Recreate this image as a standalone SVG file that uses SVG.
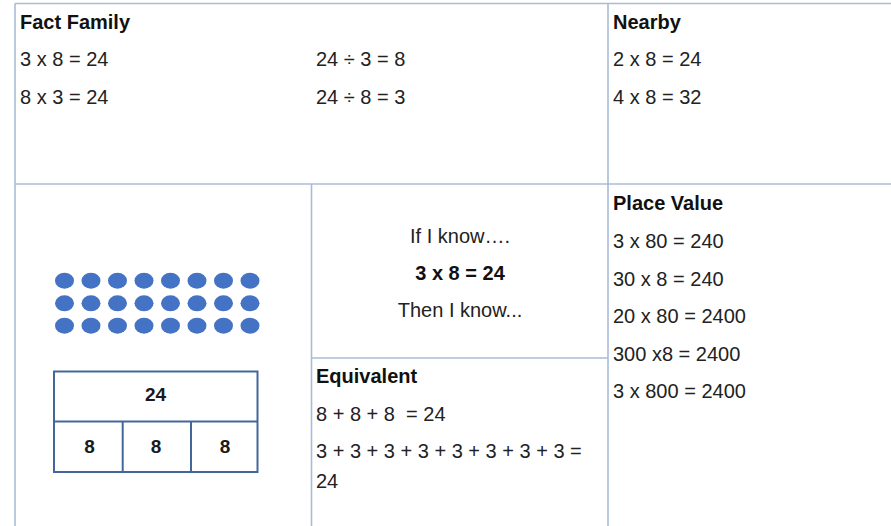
<svg xmlns="http://www.w3.org/2000/svg" width="891" height="526" viewBox="0 0 891 526">
<style>
.t{font-family:"Liberation Sans",Arial,sans-serif;font-size:20px;fill:#222}
.b{font-weight:bold;fill:#111}
.c{text-anchor:middle}
.grid{stroke:#A9BCD6;stroke-width:1.6;fill:none}
.bar{stroke:#44679B;stroke-width:2;fill:#fff}
.bt{font-family:"Liberation Sans",Arial,sans-serif;font-size:19px;font-weight:bold;fill:#1a1a1a;text-anchor:middle}
</style>
<rect width="891" height="526" fill="#fff"/>
<g id="connectors" class="grid">
<line x1="15" y1="3.5" x2="891" y2="3.5"/>
<line x1="15" y1="3.5" x2="15" y2="526"/>
<line x1="15" y1="184" x2="891" y2="184"/>
<line x1="608" y1="3.5" x2="608" y2="526"/>
<line x1="311.5" y1="184" x2="311.5" y2="526"/>
<line x1="311.5" y1="358" x2="608" y2="358"/>
</g>
<g id="fact-family">
<text class="t b" x="20" y="29">Fact Family</text>
<text class="t" x="20" y="66">3 x 8 = 24</text>
<text class="t" x="20" y="104">8 x 3 = 24</text>
<text class="t" x="316" y="66">24 ÷ 3 = 8</text>
<text class="t" x="316" y="104">24 ÷ 8 = 3</text>
</g>
<g id="nearby">
<text class="t b" x="613" y="29">Nearby</text>
<text class="t" x="613" y="66">2 x 8 = 24</text>
<text class="t" x="613" y="104">4 x 8 = 32</text>
</g>
<g id="array">
<g fill="#4472C4">
<ellipse cx="64.5" cy="280.7" rx="9.5" ry="8"/><ellipse cx="91" cy="280.7" rx="9.5" ry="8"/><ellipse cx="117.5" cy="280.7" rx="9.5" ry="8"/><ellipse cx="144" cy="280.7" rx="9.5" ry="8"/><ellipse cx="170.5" cy="280.7" rx="9.5" ry="8"/><ellipse cx="197" cy="280.7" rx="9.5" ry="8"/><ellipse cx="223.5" cy="280.7" rx="9.5" ry="8"/><ellipse cx="250" cy="280.7" rx="9.5" ry="8"/>
<ellipse cx="64.5" cy="303.3" rx="9.5" ry="8"/><ellipse cx="91" cy="303.3" rx="9.5" ry="8"/><ellipse cx="117.5" cy="303.3" rx="9.5" ry="8"/><ellipse cx="144" cy="303.3" rx="9.5" ry="8"/><ellipse cx="170.5" cy="303.3" rx="9.5" ry="8"/><ellipse cx="197" cy="303.3" rx="9.5" ry="8"/><ellipse cx="223.5" cy="303.3" rx="9.5" ry="8"/><ellipse cx="250" cy="303.3" rx="9.5" ry="8"/>
<ellipse cx="64.5" cy="325.7" rx="9.5" ry="8"/><ellipse cx="91" cy="325.7" rx="9.5" ry="8"/><ellipse cx="117.5" cy="325.7" rx="9.5" ry="8"/><ellipse cx="144" cy="325.7" rx="9.5" ry="8"/><ellipse cx="170.5" cy="325.7" rx="9.5" ry="8"/><ellipse cx="197" cy="325.7" rx="9.5" ry="8"/><ellipse cx="223.5" cy="325.7" rx="9.5" ry="8"/><ellipse cx="250" cy="325.7" rx="9.5" ry="8"/>
</g>
</g>
<g id="bar-model">
<rect class="bar" x="54" y="371.5" width="203.5" height="100.5"/>
<line class="bar" x1="54" y1="421.5" x2="257.5" y2="421.5"/>
<line class="bar" x1="122.7" y1="421.5" x2="122.7" y2="472"/>
<line class="bar" x1="191" y1="421.5" x2="191" y2="472"/>
<text class="bt" x="155.5" y="401">24</text>
<text class="bt" x="89.5" y="453">8</text>
<text class="bt" x="156" y="453">8</text>
<text class="bt" x="225" y="453">8</text>
</g>
<g id="if-i-know">
<text class="t c" x="460" y="243">If I know….</text>
<text class="t b c" x="460" y="280">3 x 8 = 24</text>
<text class="t c" x="460" y="317">Then I know...</text>
</g>
<g id="equivalent">
<text class="t b" x="316" y="383">Equivalent</text>
<text class="t" x="316" y="421" xml:space="preserve">8 + 8 + 8  = 24</text>
<text class="t" x="316" y="458">3 + 3 + 3 + 3 + 3 + 3 + 3 + 3 =</text>
<text class="t" x="316" y="488">24</text>
</g>
<g id="place-value">
<text class="t b" x="613" y="210">Place Value</text>
<text class="t" x="613" y="248">3 x 80 = 240</text>
<text class="t" x="613" y="286">30 x 8 = 240</text>
<text class="t" x="613" y="323">20 x 80 = 2400</text>
<text class="t" x="613" y="361">300 x8 = 2400</text>
<text class="t" x="613" y="398">3 x 800 = 2400</text>
</g>
</svg>
